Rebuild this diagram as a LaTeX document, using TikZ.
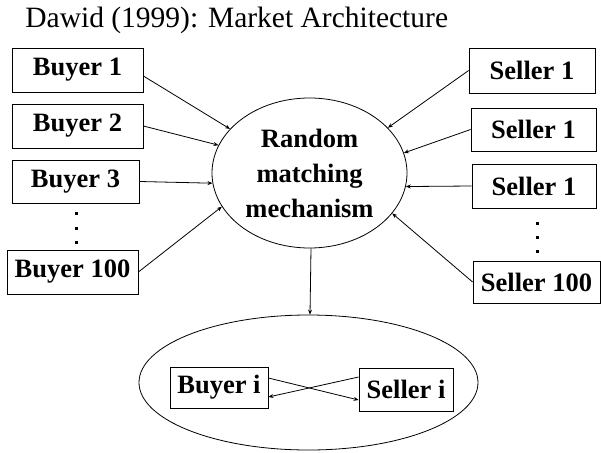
\documentclass[tikz,border=0pt]{standalone}
\usepackage{fontspec}
\setmainfont{Liberation Serif}
\usetikzlibrary{shapes.geometric, arrows.meta}
\tikzstyle{agent}=[draw,rectangle,inner sep=0pt,font=\fontsize{26.5}{28}\selectfont\bfseries]
\tikzstyle{pool}=[draw,ellipse,inner sep=0pt]
\tikzstyle{link}=[-{Stealth[length=5pt,width=4pt]}]
\tikzstyle{dot}=[rectangle,fill,inner sep=0pt,minimum size=3pt]

\begin{document}
\begin{tikzpicture}[x=1pt,y=-1pt,line width=0.8pt]
    \useasboundingbox (0,0) rectangle (601,452);
    \node[anchor=base west,inner sep=0pt,font=\fontsize{29.5}{32}\selectfont] (title) at (25,28) {Dawid (1999): Market Architecture};
    % the two sides of the market
    \foreach \n/\x/\y/\w/\h/\t in {b1/77.5/70/131/44/Buyer 1, b2/77.5/126/131/44/Buyer 2, b3/75.5/181.5/127/43/Buyer 3, b100/72.5/272/131/44/Buyer 100,
                                  s1/532/70.5/126/45/Seller 1, s2/533.5/129.5/125/43/Seller 1, s3/534/186/124/44/Seller 1, s100/536.5/282/127/42/Seller 100}
        \node[agent,minimum width=\w pt,minimum height=\h pt] (\n) at (\x,\y) {\t};
    \foreach \y in {213,228,242} \node[dot] (bd\y) at (76,\y) {};
    \foreach \y in {223,237,251} \node[dot] (sd\y) at (537,\y) {};
    % matching
    \node[pool,minimum width=195pt,minimum height=150pt,align=center,font=\fontsize{26.5}{35}\selectfont\bfseries] (mech) at (309.5,173) {Random\\matching\\mechanism};
    \node[pool,minimum width=339pt,minimum height=135pt] (pair) at (308.5,382.5) {};
    \node[agent,minimum width=98pt,minimum height=41pt] (bi) at (219,387.5) {Buyer i};
    \node[agent,minimum width=94pt,minimum height=43pt] (si) at (406,389.5) {Seller i};
    \foreach \s/\a in {b2/163, b3/186, b100/201} \draw[link] (\s.east) -- (mech.\a);
    \draw[link] ([yshift=-6pt]b1.east) -- (mech.151);
    \foreach \s/\a in {s1/30, s2/12, s3/-8, s100/-26} \draw[link] (\s.west) -- (mech.\a);
    \draw[link] ([xshift=1.5pt]mech.south) -- ([xshift=1.5pt]pair.north);
    \draw[link] ([yshift=9.5pt]bi.east) -- ([yshift=-10.5pt]si.west);
    \draw[link] ([yshift=12.5pt]si.west) -- ([yshift=-9.5pt]bi.east);
\end{tikzpicture}
\end{document}
